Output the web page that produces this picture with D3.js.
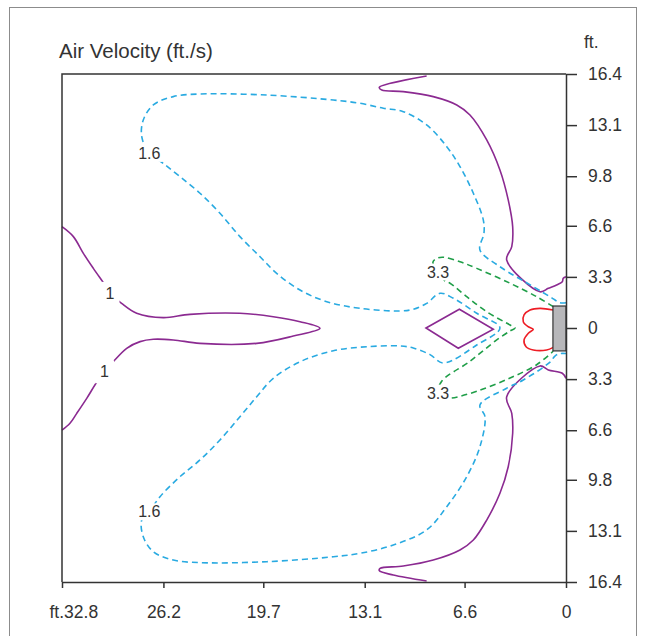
<!DOCTYPE html>
<html><head><meta charset="utf-8">
<script src="https://cdn.jsdelivr.net/npm/d3@7"></script>
<style>body{margin:0;background:#fff}</style>
</head><body><svg id="c" width="645" height="636"></svg>
<script>
// axis ticks (ft.)
const xTicks=[32.8,26.2,19.7,13.1,6.6,0];
const xTickLabels=["ft.32.8","26.2","19.7","13.1","6.6","0"];
const yTicks=[16.4,13.1,9.8,6.6,3.3,0,-3.3,-6.6,-9.8,-13.1,-16.4];
const yTickLabels=["16.4","13.1","9.8","6.6","3.3","0","3.3","6.6","9.8","13.1","16.4"];

// contour 1 ft/s (purple) - outer top branch
const c1Top=[[9.07,16.27],[12.15,15.54],[11.99,15.37],[10.59,15.26],[8.64,14.94],[7.11,14.40],[6.25,13.75],[5.16,12.14],[4.30,10.20],[3.76,8.27],[3.47,6.54],[3.53,5.25],[3.86,4.39],[1.69,2.34],[1.15,2.56],[0.61,2.78],[0.24,2.99],[0.18,3.21],[0,3.31]];
// contour 1 ft/s (purple) - outer bottom branch
const c1Bottom=[[0,-3.25],[0.24,-2.92],[1.15,-2.71],[1.69,-2.45],[3.86,-4.44],[3.53,-5.51],[3.47,-6.80],[3.76,-8.96],[4.30,-10.67],[5.16,-12.40],[6.03,-13.69],[6.90,-14.33],[8.64,-14.98],[10.59,-15.37],[12.10,-15.52],[12.15,-15.67],[11.24,-15.95],[9.07,-16.34]];
// contour 1 ft/s (purple) - left tongue
const c1Left=[[32.8,6.54],[32.06,5.90],[31.41,4.82],[30.76,3.85],[30.11,2.93],[29.55,2.13],[28.92,1.59],[27.94,0.95],[26.21,0.67],[24.47,0.88],[21.22,0.95],[19.05,0.73],[17.31,0.41],[16.01,-0.02],[17.75,-0.52],[20.13,-0.99],[23.82,-0.99],[25.56,-0.77],[26.86,-0.73],[27.72,-0.88],[28.59,-1.31],[29.46,-2.18],[30.44,-3.36],[31.19,-4.54],[31.84,-5.51],[32.28,-6.15],[32.8,-6.59]];
// contour 1 ft/s (purple) - diamond
const c1Diamond=[[9.11,0],[6.94,1.21],[4.73,-0.08],[7.01,-1.31]];
// contour 1.6 ft/s (blue dashed)
const c16=[[0,1.63],[0.39,1.63],[1.04,2.02],[2.13,2.67],[4.30,3.96],[5.60,5.04],[5.34,6.11],[5.38,6.97],[6.03,8.70],[6.90,10.42],[7.76,11.71],[9.07,13.11],[10.59,13.97],[11.89,14.19],[13.41,14.51],[15.14,14.72],[19.48,15.04],[23.82,15.11],[25.56,14.94],[26.86,14.40],[27.51,13.43],[27.61,12.35],[27.12,11.28],[26.21,10.63],[25.12,9.77],[23.82,8.70],[22.52,7.41],[21.22,5.90],[19.91,4.60],[18.83,3.53],[17.31,2.45],[15.57,1.70],[13.41,1.27],[10.80,1.10],[9.94,1.21],[9.07,1.59],[8.20,2.24],[7.33,1.92],[5.81,0.95],[4.30,0],[5.81,-1.10],[7.99,-2.26],[8.85,-1.72],[9.94,-1.29],[10.80,-1.16],[12.97,-1.21],[15.14,-1.47],[17.31,-2.18],[19.05,-3.25],[20.13,-4.44],[21.22,-5.73],[22.52,-7.23],[23.82,-8.52],[25.12,-9.60],[26.42,-10.89],[27.12,-11.86],[27.61,-12.40],[27.51,-13.48],[26.86,-14.44],[25.56,-14.98],[23.82,-15.15],[19.48,-15.09],[15.14,-14.77],[13.41,-14.55],[11.24,-14.01],[9.07,-13.04],[7.76,-11.54],[6.46,-9.60],[5.60,-7.66],[5.27,-5.73],[5.60,-4.97],[3.86,-3.89],[2.78,-3.36],[1.04,-2.20],[0.72,-1.81],[0.39,-1.65],[0,-1.65]];
// contour 3.3 ft/s (green dashed)
const c33=[[0.83,1.38],[1.91,2.02],[3.64,2.89],[5.81,3.85],[6.90,4.28],[7.99,4.57],[8.41,4.50],[8.66,4.26],[8.33,3.62],[7.87,3.03],[7.55,2.89],[6.46,2.02],[5.16,1.05],[3.64,0.19],[3.32,0],[3.64,-0.19],[4.51,-0.77],[6.25,-2.15],[8.09,-3.44],[8.33,-4.20],[8.00,-4.52],[7.44,-4.52],[5.81,-4.09],[3.64,-3.23],[1.91,-2.37],[0.83,-1.50]];
// contour (red) near outlet
const cRed=[[0.83,1.16],[1.69,1.27],[2.34,1.16],[2.73,0.84],[2.78,0.41],[2.45,0.08],[2.13,-0.08],[2.45,-0.34],[2.73,-0.77],[2.60,-1.21],[2.13,-1.42],[1.26,-1.42],[0.83,-1.25]];
// outlet box
const outlet={x0:0.85,x1:0,y0:1.42,y1:-1.48};
// contour labels
const labels=[{t:"1",p:[29.68,2.24]},{t:"1",p:[30.03,-2.82]},{t:"1.6",p:[27.12,11.28]},{t:"1.6",p:[27.12,-11.86]},{t:"3.3",p:[8.33,3.62]},{t:"3.3",p:[8.33,-4.20]}];

const svg=d3.select("#c");
const F="'Liberation Sans', Arial, sans-serif";
const x=d3.scaleLinear().domain([32.8,0]).range([62,566]);
const y=d3.scaleLinear().domain([16.4,-16.4]).range([74,582]);

svg.append("rect").attr("x",9.5).attr("y",7.5).attr("width",627).attr("height",640)
  .attr("fill","none").attr("stroke","#8c8c8c").attr("stroke-width",1);

const line=d3.line().x(d=>x(d[0])).y(d=>y(d[1])).curve(d3.curveCatmullRom.alpha(0.5));
const g=svg.append("g");
const purple="#8b2a91", blue="#29aae1", green="#1f9e48", red="#ee1d25";
[c1Top,c1Bottom,c1Left].forEach(a=>g.append("path").attr("d",line(a)).attr("fill","none").attr("stroke",purple).attr("stroke-width",1.6));
g.append("path").attr("d",d3.line().x(d=>x(d[0])).y(d=>y(d[1])).curve(d3.curveLinearClosed)(c1Diamond))
  .attr("fill","none").attr("stroke",purple).attr("stroke-width",1.6);
g.append("path").attr("d",line(c16)).attr("fill","none").attr("stroke",blue).attr("stroke-width",1.6).attr("stroke-dasharray","6,4");
g.append("path").attr("d",line(c33)).attr("fill","none").attr("stroke",green).attr("stroke-width",1.6).attr("stroke-dasharray","6,4");
g.append("path").attr("d",line(cRed)).attr("fill","none").attr("stroke",red).attr("stroke-width",1.6);

g.append("rect").attr("x",x(outlet.x0)).attr("y",y(outlet.y0))
  .attr("width",x(outlet.x1)-x(outlet.x0)).attr("height",y(outlet.y1)-y(outlet.y0))
  .attr("fill","#b7b7ba").attr("stroke","#333").attr("stroke-width",1.2);

labels.forEach(l=>{
  const t=g.append("text").attr("x",x(l.p[0])).attr("y",y(l.p[1])).attr("dy","0.35em")
    .attr("text-anchor","middle").attr("font-family",F).attr("font-size",16).attr("fill","#333").text(l.t);
  const bb=t.node().getBBox();
  const pad=l.t.length===1?5:2;
  g.insert("rect","text").attr("x",bb.x-pad).attr("y",bb.y-pad+2).attr("width",bb.width+2*pad).attr("height",bb.height+2*pad-4).attr("fill","#fff");
});
g.selectAll("text").raise();

// frame
svg.append("path").attr("d",`M${x(0)},${y(16.4)}H${x(32.8)}V${y(-16.4)}`).attr("fill","none").attr("stroke","#333").attr("stroke-width",1.5);

const ax=svg.append("g").attr("transform",`translate(0,${y(-16.4)})`)
  .call(d3.axisBottom(x).tickValues(xTicks).tickSize(6).tickSizeOuter(0).tickPadding(18).tickFormat((d,i)=>xTickLabels[i]));
const ay=svg.append("g").attr("transform",`translate(${x(0)},0)`)
  .call(d3.axisRight(y).tickValues(yTicks).tickSize(11).tickSizeOuter(0).tickPadding(11).tickFormat((d,i)=>yTickLabels[i]));
[ax,ay].forEach(a=>{
  a.select(".domain").attr("stroke","#333").attr("stroke-width",1.5);
  a.selectAll(".tick line").attr("stroke","#333").attr("stroke-width",1.5);
  a.selectAll("text").attr("font-family",F).attr("font-size",17.5).attr("fill","#333");
});
ax.selectAll(".tick text").filter((d,i)=>i===0).attr("text-anchor","start").attr("x",-13);

svg.append("text").attr("x",59).attr("y",58).attr("font-family",F).attr("font-size",20.5).attr("fill","#333").text("Air Velocity (ft./s)");
svg.append("text").attr("x",584).attr("y",48).attr("font-family",F).attr("font-size",17.5).attr("fill","#333").text("ft.");
</script></body></html>
